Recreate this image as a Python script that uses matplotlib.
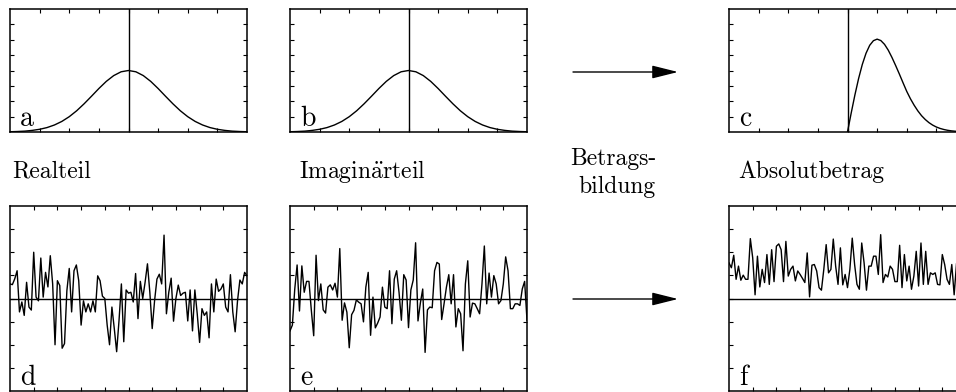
import numpy as np
import matplotlib
matplotlib.use("Agg")
import matplotlib.pyplot as plt
from matplotlib.patches import FancyArrowPatch

plt.rcParams['font.family'] = ['cmr10', 'DejaVu Serif']
plt.rcParams['mathtext.fontset'] = 'cm'
plt.rcParams['axes.unicode_minus'] = False

# ---------------- data ----------------
gauss_x = np.arange(-4, 4.001, 0.25)
gauss_vals = [0.004, 0.008, 0.014, 0.026, 0.044, 0.072, 0.114, 0.172, 0.249, 0.345,
              0.458, 0.581, 0.707, 0.823, 0.917, 0.979, 1.0, 0.979, 0.917, 0.823,
              0.707, 0.581, 0.458, 0.345, 0.249, 0.172, 0.114, 0.072, 0.044, 0.026,
              0.014, 0.008, 0.004]

abs_x = np.arange(0, 4.001, 0.125)
abs_vals = [0.0, 0.309, 0.603, 0.870, 1.099, 1.280, 1.410, 1.485, 1.510, 1.487,
            1.425, 1.331, 1.213, 1.081, 0.943, 0.800, 0.660, 0.540, 0.435, 0.343,
            0.265, 0.203, 0.152, 0.112, 0.081, 0.058, 0.041, 0.028, 0.019, 0.013,
            0.008, 0.005, 0.003]

real_vals = [0.63, 0.6, 0.85, 1.2, -0.58, -0.15, -0.73, 0.7, -0.37, -0.5,
             2.0, 0.06, -0.1, 1.75, 0.06, 1.13, 0.5, 1.85, 0.63, -2.0,
             0.77, 0.56, -2.15, -1.95, 0.34, 1.3, -0.58, 1.2, 1.45, 0.77,
             -1.15, -0.1, -0.58, -0.23, -0.58, -0.1, -0.58, 0.98, 0.77, 0.1,
             0.0, -1.15, -2.0, -0.37, -1.3, -2.3, -0.95, 0.63, -1.87, 0.37,
             0.23, 0.27, -0.15, 1.08, -0.87, 0.74, 0.0, 0.7, 1.5, 0.27,
             -1.3, -0.1, 0.84, 1.05, 0.63, 2.74, -0.66, 0.27, 0.88, -0.98,
             0.0, 0.58, 0.13, 0.23, 0.27, -0.97, 0.37, -1.4, 0.37, -0.66,
             -1.9, -0.44, -0.73, -0.58, -1.7, 0.63, -0.58, 0.84, 0.31, 0.41,
             0.63, -0.37, -0.58, 1.03, -0.58, -1.44, -0.1, 0.8, 0.63, 1.13,
             0.98]

imag_vals = [-1.4, -1.15, 0.4, 1.45, -0.54, 1.41, 0.27, 0.74, 0.74, -0.51,
             -1.61, 1.87, -0.09, 0.63, -0.49, -0.63, 0.49, 0.59, 0.37, 0.66,
             0.06, 2.16, -0.94, -0.19, -0.59, -2.13, -0.7, -0.51, -0.06, -0.16,
             -0.23, -1.01, 0.49, 1.13, -1.59, 0.06, -1.27, -1.06, -0.8, 0.49,
             -0.37, -0.44, 1.2, -1.09, 0.84, 1.2, 0.27, -0.94, 1.03, 0.8,
             -1.26, 0.37, 0.8, 2.41, -0.97, -0.2, 0.41, -2.33, -0.49, -0.37,
             -0.4, 1.2, 1.56, 1.49, -0.91, -0.23, 0.49, 1.03, -0.23, 1.03,
             -1.23, -0.44, -0.66, -2.26, 0.63, 1.63, -0.8, -0.2, -0.23, -0.44,
             -0.66, 0.63, 2.27, -0.23, 1.1, 0.06, 0.99, 0.63, -0.23, -0.09,
             0.63, 1.8, 1.2, -0.44, -0.44, -0.23, -0.23, -0.3, 0.41, 0.74,
             -0.94]

abs_noise_vals = [1.54, 1.33, 1.87, 0.83, 1.40, 0.79, 1.01, 0.83, 0.83, 2.59,
                  1.76, 0.16, 1.83, 0.50, 1.26, 0.69, 1.90, 0.61, 2.11, 0.73,
                  2.26, 2.36, 2.11, 0.73, 2.47, 0.97, 1.26, 1.40, 0.76, 1.19,
                  1.04, 0.87, 0.69, 1.97, 0.07, 1.44, 1.47, 1.19, 0.47, 0.36,
                  1.26, 2.33, 1.11, 1.26, 2.57, 1.40, 0.61, 2.19, 0.59, 1.04,
                  0.47, 1.26, 2.61, 1.47, 0.61, 0.40, 2.40, 1.54, 0.36, 1.40,
                  1.40, 1.83, 1.83, 1.04, 2.76, 0.69, 1.04, 0.93, 1.40, 1.26,
                  0.73, 0.73, 2.30, 0.47, 1.90, 0.76, 1.40, 0.40, 0.97, 2.04,
                  0.54, 2.40, 0.61, 2.04, 0.61, 1.11, 1.04, 1.11, 0.61, 0.59,
                  1.90, 1.47, 0.83, 0.61, 1.47, 0.16, 1.50]

top_labels = ['a', 'b', 'c']
bottom_labels = ['d', 'e', 'f']
captions = ['Realteil', 'Imagin$\\ddot{\\mathrm{a}}$rteil', 'Absolutbetrag']
arrow_lines = ['Betrags-', 'bildung']

# ---------------- layout ----------------
W, H = 956, 392
fig = plt.figure(figsize=(W / 100, H / 100), dpi=100)
fig.patch.set_facecolor('white')

LW = 1.0
FS = 17


def px_axes(l, t, r, b):
    return fig.add_axes([l / W, 1 - b / H, (r - l) / W, (b - t) / H])


def style(ax, xt, yt):
    ax.set_xticks(xt)
    ax.set_yticks(yt)
    ax.tick_params(direction='in', top=True, right=True, bottom=True, left=True,
                   length=3, width=0.8, labelbottom=False, labelleft=False)
    for s in ax.spines.values():
        s.set_linewidth(1.1)


def label(ax, txt):
    ax.annotate(txt, xy=(0, 0), xycoords='axes fraction', xytext=(10, 6),
                textcoords='offset pixels', ha='left', va='baseline', fontsize=20)


top_lefts = [10, 290, 729]
for i, l in enumerate(top_lefts):
    ax = px_axes(l, 9, l + 237, 132)
    ax.set_xlim(-4, 4)
    ax.set_ylim(0, 2)
    style(ax, np.arange(-3, 4, 1), np.arange(0.25, 2.0, 0.25))
    ax.axvline(0, color='black', lw=LW)
    if i < 2:
        ax.plot(gauss_x, gauss_vals, color='black', lw=LW)
    else:
        ax.plot(abs_x, abs_vals, color='black', lw=LW)
    label(ax, top_labels[i])

series = [real_vals, imag_vals, abs_noise_vals]
for i, l in enumerate(top_lefts):
    ax = px_axes(l, 206, l + 237, 391)
    ax.set_xlim(0, 100)
    ax.set_ylim(-4, 4)
    style(ax, np.arange(10, 100, 10), np.arange(-3, 4, 1))
    ax.axhline(0, color='black', lw=LW)
    ax.plot(np.arange(len(series[i])), series[i], color='black', lw=LW)
    label(ax, bottom_labels[i])

# captions
fig.text(12 / W, 1 - 178 / H, captions[0], fontsize=FS, ha='left', va='baseline')
fig.text(299 / W, 1 - 178 / H, captions[1], fontsize=FS, ha='left', va='baseline')
fig.text(738 / W, 1 - 178 / H, captions[2], fontsize=FS, ha='left', va='baseline')
fig.text(613 / W, 1 - 165 / H, arrow_lines[0], fontsize=FS, ha='center', va='baseline')
fig.text(617 / W, 1 - 193 / H, arrow_lines[1], fontsize=FS, ha='center', va='baseline')

# arrows
for y in (72, 299):
    arr = FancyArrowPatch((573 / W, 1 - y / H), (678 / W, 1 - y / H),
                          transform=fig.transFigure,
                          arrowstyle='-|>,head_length=16,head_width=4',
                          mutation_scale=1, lw=1.0, color='black',
                          shrinkA=0, shrinkB=0)
    fig.add_artist(arr)

fig.savefig('out.png', dpi=100, facecolor='white')
